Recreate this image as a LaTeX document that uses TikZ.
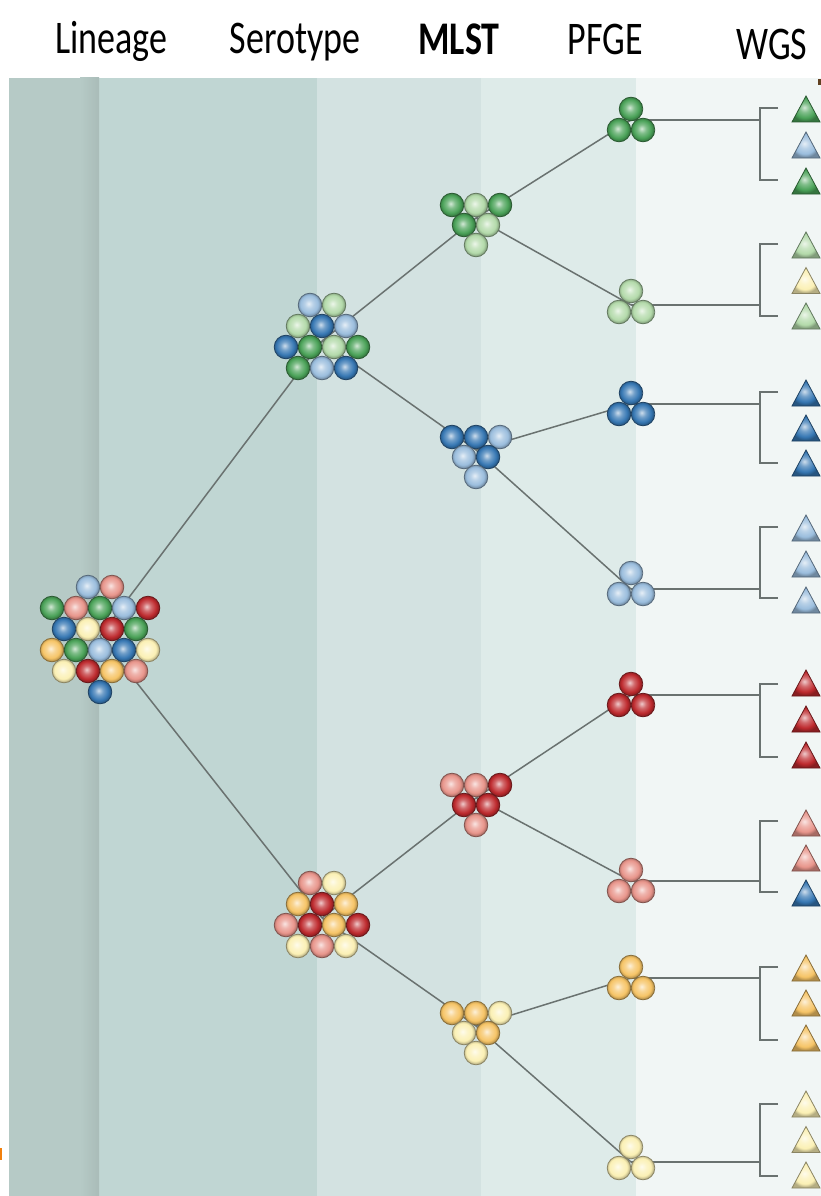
\documentclass[tikz,border=0pt]{standalone}
\usepackage{fontspec}
\usepackage{graphicx}
\newfontfamily\hdr{Carlito}
\makeatletter
\pgfdeclareradialshading[tikz@ball]{sphere}{\pgfqpoint{-3bp}{3bp}}{%
  color(0bp)=(tikz@ball!25!white);
  color(9bp)=(tikz@ball!70!white);
  color(19bp)=(tikz@ball);
  color(25bp)=(tikz@ball!72!black);
  color(50bp)=(tikz@ball!72!black)}
\makeatother
\definecolor{dg}{HTML}{4AA258}
\definecolor{lg}{HTML}{B3DAAA}
\definecolor{db}{HTML}{3677B3}
\definecolor{lb}{HTML}{9ABDDD}
\definecolor{dr}{HTML}{BE2A2E}
\definecolor{pk}{HTML}{E8958B}
\definecolor{orr}{HTML}{F6C466}
\definecolor{cr}{HTML}{FBF0B4}
\definecolor{bandA}{HTML}{B6CAC6}
\definecolor{bandB}{HTML}{C0D6D3}
\definecolor{bandC}{HTML}{D3E2E1}
\definecolor{bandD}{HTML}{DEEBE9}
\definecolor{bandE}{HTML}{F1F6F5}
\definecolor{linegray}{HTML}{6A7270}
\tikzset{
  conn/.style={draw=linegray, line width=1.5pt},
  hdrtext/.style={anchor=base, inner sep=0pt, font=\hdr\fontsize{36}{40}\selectfont},
  ballst/.style={ball color=#1, shading=sphere, draw=#1!55!black, line width=0.8pt},
}
\newcommand\bl[3]{\path[ballst=#3] (#1,{#2}) circle[radius=11.8];}
\newcommand\tri[2]{\path[ballst=#2] (792,{#1+13}) -- (806,{#1-13}) -- (820,{#1+13}) -- cycle;}
% MLST cluster: y0, six colours
\newcommand\mlst[7]{\bl{452}{#1}{#2}\bl{476}{#1}{#3}\bl{500}{#1}{#4}%
  \bl{464}{#1+20}{#5}\bl{488}{#1+20}{#6}\bl{476}{#1+40}{#7}}
% PFGE cluster
\newcommand\pfge[2]{\bl{631}{#1}{#2}\bl{619}{#1+21}{#2}\bl{643}{#1+21}{#2}}
% bracket group: name, line y, top, bottom
\newcommand\grpcoords[4]{%
  \coordinate (P#1) at (631,#2);
  \coordinate (B#1) at (760,#2);
  \coordinate (B#1t) at (760,#3);
  \coordinate (B#1b) at (760,#4);
  \coordinate (T#1t) at (778,#3);
  \coordinate (T#1b) at (778,#4);}
\newcommand\grpdraw[1]{\draw[conn] (P#1) -- (B#1); \draw[conn] (T#1t) -- (B#1t) -- (B#1b) -- (T#1b);}
\newcommand\tris[5]{\tri{#1}{#3}\tri{(#1+#2)/2}{#4}\tri{#2}{#5}}
\begin{document}
\begin{tikzpicture}[x=1pt,y=-1pt]
\useasboundingbox (0,0) rectangle (821,1196);
% bands
\fill[bandA] (9,78) rectangle (99,1196);
\fill[bandB] (99,78) rectangle (317,1196);
\fill[bandC] (317,78) rectangle (481,1196);
\fill[bandD] (481,78) rectangle (636,1196);
\fill[bandE] (636,78) rectangle (821,1196);
\shade[left color=bandA, right color=bandA!93!black] (80,78) rectangle (99,1196);
\fill[orange!80!brown] (0,1148) rectangle (2,1160);
\fill[brown!50!black] (818,79) rectangle (821,85);
% coordinates
\coordinate (L) at (100,636);
\coordinate (S1) at (322,341);
\coordinate (S2) at (322,918);
\coordinate (M1) at (476,218);
\coordinate (M2) at (476,450);
\coordinate (M3) at (476,798);
\coordinate (M4) at (476,1026);
\grpcoords{1}{120}{108}{180}
\grpcoords{2}{305}{244}{316}
\grpcoords{3}{404}{392}{463}
\grpcoords{4}{589}{527}{598}
\grpcoords{5}{695}{684}{757}
\grpcoords{6}{881}{821}{892}
\grpcoords{7}{978}{967}{1040}
\grpcoords{8}{1162}{1104}{1176}
% connectors
\draw[conn] (L) -- (S1);
\draw[conn] (L) -- (S2);
\draw[conn] (S1) -- (M1);
\draw[conn] (S1) -- (M2);
\draw[conn] (S2) -- (M3);
\draw[conn] (S2) -- (M4);
\draw[conn] (M1) -- (P1);
\draw[conn] (M1) -- (P2);
\draw[conn] (M2) -- (P3);
\draw[conn] (M2) -- (P4);
\draw[conn] (M3) -- (P5);
\draw[conn] (M3) -- (P6);
\draw[conn] (M4) -- (P7);
\draw[conn] (M4) -- (P8);
\grpdraw{1}\grpdraw{2}\grpdraw{3}\grpdraw{4}
\grpdraw{5}\grpdraw{6}\grpdraw{7}\grpdraw{8}
% lineage cluster
\bl{88}{587}{lb}\bl{112}{587}{pk}
\bl{52}{608}{dg}\bl{76}{608}{pk}\bl{100}{608}{dg}\bl{124}{608}{lb}\bl{148}{608}{dr}
\bl{64}{629}{db}\bl{88}{629}{cr}\bl{112}{629}{dr}\bl{136}{629}{dg}
\bl{52}{650}{orr}\bl{76}{650}{dg}\bl{100}{650}{lb}\bl{124}{650}{db}\bl{148}{650}{cr}
\bl{64}{671}{cr}\bl{88}{671}{dr}\bl{112}{671}{orr}\bl{136}{671}{pk}
\bl{100}{692}{db}
% serotype clusters
\bl{310}{305}{lb}\bl{334}{305}{lg}
\bl{298}{326}{lg}\bl{322}{326}{db}\bl{346}{326}{lb}
\bl{286}{347}{db}\bl{310}{347}{dg}\bl{334}{347}{lg}\bl{358}{347}{dg}
\bl{298}{368}{dg}\bl{322}{368}{lb}\bl{346}{368}{db}
\bl{310}{883}{pk}\bl{334}{883}{cr}
\bl{298}{904}{orr}\bl{322}{904}{dr}\bl{346}{904}{orr}
\bl{286}{925}{pk}\bl{310}{925}{dr}\bl{334}{925}{orr}\bl{358}{925}{dr}
\bl{298}{946}{cr}\bl{322}{946}{pk}\bl{346}{946}{cr}
% MLST clusters
\mlst{205}{dg}{lg}{dg}{dg}{lg}{lg}
\mlst{437}{db}{db}{lb}{lb}{db}{lb}
\mlst{785}{pk}{pk}{dr}{dr}{dr}{pk}
\mlst{1013}{orr}{orr}{cr}{cr}{orr}{cr}
% PFGE clusters
\pfge{109}{dg}
\pfge{291}{lg}
\pfge{393}{db}
\pfge{573}{lb}
\pfge{684}{dr}
\pfge{870}{pk}
\pfge{967}{orr}
\pfge{1147}{cr}
% WGS triangles
\tris{109}{181}{dg}{lb}{dg}
\tris{245}{316}{lg}{cr}{lg}
\tris{393}{463}{db}{db}{db}
\tris{528}{600}{lb}{lb}{lb}
\tris{683}{755}{dr}{dr}{dr}
\tris{823}{893}{pk}{pk}{db}
\tris{968}{1038}{orr}{orr}{orr}
\tris{1104}{1175}{cr}{cr}{cr}
% headers
\node[hdrtext] (hLin) at (111.5,54) {\scalebox{1}[1.3]{Lineage}};
\node[hdrtext] (hSer) at (295,54) {\scalebox{1}[1.3]{Serotype}};
\node[hdrtext] (hMLST) at (459,55) {\scalebox{1}[1.3]{\bfseries MLST}};
\node[hdrtext] (hPFGE) at (605.5,55) {\scalebox{1}[1.3]{PFGE}};
\node[hdrtext] (hWGS) at (772,60) {\scalebox{1}[1.3]{WGS}};
\end{tikzpicture}
\end{document}
